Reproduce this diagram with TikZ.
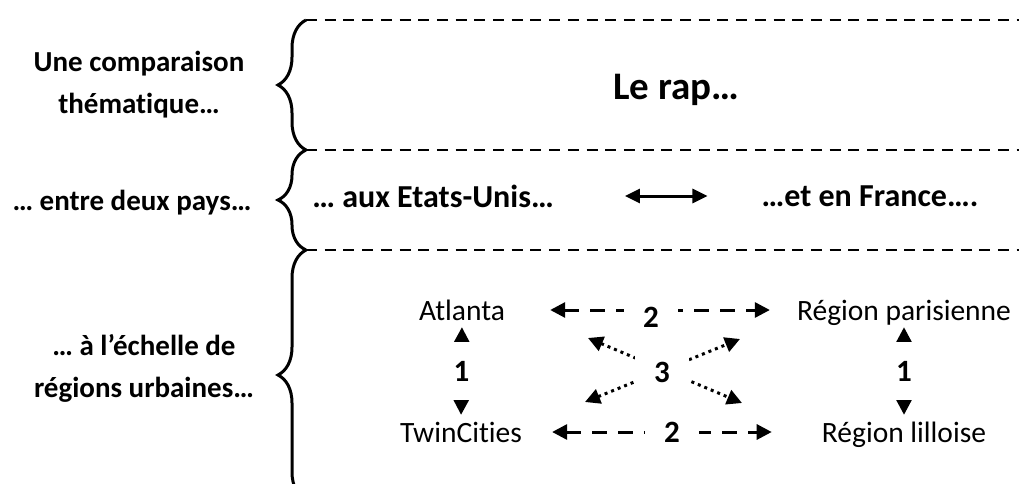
\documentclass[tikz,border=0pt]{standalone}
\usepackage{fontspec}
\setmainfont{Carlito}[Ligatures=NoCommon]
\usetikzlibrary{arrows.meta,decorations.pathreplacing}

\begin{document}
\begin{tikzpicture}[x=1pt,y=-1pt,
  titre/.style={font=\bfseries\fontsize{29}{42}\selectfont, align=center, inner sep=0pt},
  pays/.style={font=\bfseries\fontsize{32}{34}\selectfont, inner sep=0pt},
  ville/.style={font=\fontsize{29.5}{32}\selectfont, inner sep=0pt, text height=20pt, text depth=0pt},
  num/.style={font=\bfseries\fontsize{31}{32}\selectfont, fill=white, inner sep=0pt},
  accolade/.style={decorate, decoration={brace, amplitude=28pt}, line width=3pt},
  separ/.style={line width=2pt, dash pattern=on 11pt off 7.7pt},
  fleche/.style={line width=3pt, {Triangle[length=15pt,width=15pt]}-{Triangle[length=15pt,width=15pt]}},
  lien/.style={fleche, dash pattern=on 15pt off 11pt},
  pointille/.style={fleche, dash pattern=on 3pt off 4pt}]
\useasboundingbox (0,0) rectangle (1019,484);

% accolades et separations
\draw[accolade] (306,150) -- (306,20);
\draw[accolade] (306,250) -- (306,150);
\draw[accolade] (306,500) -- (306,250);
\draw[separ] (306,20) -- (1019,20);
\draw[separ] (306,150) -- (1019,150);
\draw[separ] (306,250) -- (1019,250);

% textes a gauche
\node[titre] (theme) at (139,85) {Une comparaison\\thématique…};
\node[titre] (deux) at (132,203) {… entre deux pays…};
\node[titre] (echelle) at (144,368) {… à l’échelle de\\régions urbaines…};

% pays
\node[font=\bfseries\fontsize{39}{40}\selectfont] (rap) at (676,90) {Le rap…};
\node[pays] (usa) at (433,196) {… aux Etats-Unis…};
\node[pays] (france) at (870,196) {…et en France….};
\draw[line width=3pt, {Triangle[length=15pt,width=14pt]}-{Triangle[length=15pt,width=14pt]}, shorten <=71pt, shorten >=54pt] (usa.east) -- (france.west);

% regions urbaines
\node[ville] (atl) at (462,310) {Atlanta};
\node[ville] (twin) at (461,432) {TwinCities};
\node[ville] (paris) at (904,310) {Région parisienne};
\node[ville] (lille) at (904,432) {Région lilloise};

\draw[fleche, shorten <=7pt, shorten >=7pt] (atl.south) -- node[num, minimum width=30pt, minimum height=58pt] (un-g) {1} (twin.north);
\draw[fleche, shorten <=7pt, shorten >=7pt] (paris.south) -- node[num, minimum width=30pt, minimum height=58pt] (un-d) {1} (lille.north);
\draw[lien, shorten <=45pt, shorten >=27pt] (atl.east) -- node[num, minimum width=54pt, minimum height=30pt, yshift=-7pt] (deux-h) {2} (paris.west);
\draw[lien, shorten <=30pt, shorten >=50pt] (twin.east) -- node[num, minimum width=54pt, minimum height=30pt] (deux-b) {2} (lille.west);

\coordinate (hg) at (588,338);
\coordinate (bd) at (742,403);
\coordinate (bg) at (585,402);
\coordinate (hd) at (740,339);
\draw[pointille] (hg) -- (bd);
\draw[pointille] (bg) -- (hd);
\node[num, minimum width=54pt, minimum height=40pt] (trois) at (662,372) {3};
\end{tikzpicture}
\end{document}
